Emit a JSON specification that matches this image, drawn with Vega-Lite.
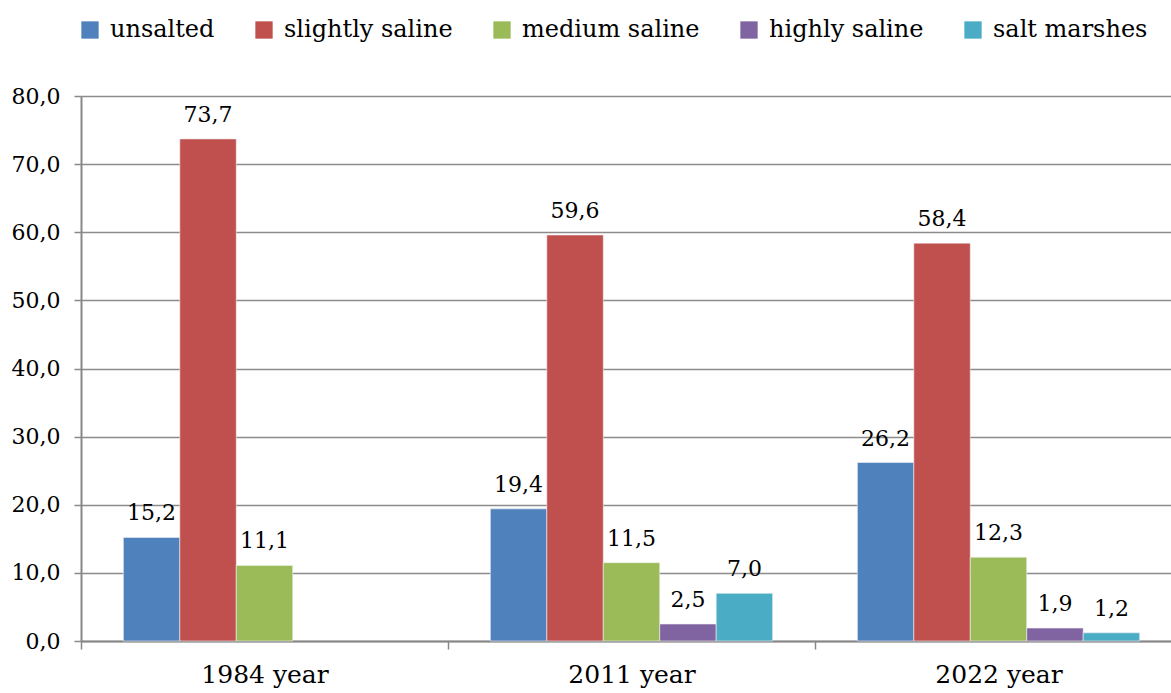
{
  "$schema": "https://vega.github.io/schema/vega-lite/v6.json",
  "width": 1090,
  "height": 545,
  "autosize": "none",
  "padding": {"left": 81, "top": 96, "right": 0, "bottom": 52},
  "background": "white",
  "config": {
    "locale": {"number": {"decimal": ",", "thousands": " ", "grouping": [3], "currency": ["", ""]}},
    "font": "DejaVu Serif",
    "view": {"stroke": null}
  },
  "data": {
    "values": [
      {"year": "1984 year", "type": "unsalted", "value": 15.2},
      {"year": "1984 year", "type": "slightly saline", "value": 73.7},
      {"year": "1984 year", "type": "medium saline", "value": 11.1},
      {"year": "2011 year", "type": "unsalted", "value": 19.4},
      {"year": "2011 year", "type": "slightly saline", "value": 59.6},
      {"year": "2011 year", "type": "medium saline", "value": 11.5},
      {"year": "2011 year", "type": "highly saline", "value": 2.5},
      {"year": "2011 year", "type": "salt marshes", "value": 7.0},
      {"year": "2022 year", "type": "unsalted", "value": 26.2},
      {"year": "2022 year", "type": "slightly saline", "value": 58.4},
      {"year": "2022 year", "type": "medium saline", "value": 12.3},
      {"year": "2022 year", "type": "highly saline", "value": 1.9},
      {"year": "2022 year", "type": "salt marshes", "value": 1.2}
    ]
  },
  "encoding": {
    "x": {
      "field": "year", "type": "nominal", "title": null,
      "scale": {"range": [0, 1101], "paddingInner": 0, "paddingOuter": 0},
      "axis": {
        "labelAngle": 0, "labelFont": "DejaVu Serif", "labelFontSize": 25, "labelColor": "#000",
        "labelPadding": 13, "tickBand": "extent", "tickSize": 8, "tickColor": "#888", "tickWidth": 1.5,
        "domainColor": "#888", "domainWidth": 2, "labelBaseline": "top", "labelLimit": 0
      }
    },
    "xOffset": {
      "field": "type", "type": "nominal",
      "sort": ["unsalted", "slightly saline", "medium saline", "highly saline", "salt marshes"],
      "scale": {"paddingInner": 0, "paddingOuter": 0.75}
    },
    "y": {
      "field": "value", "type": "quantitative", "title": null,
      "scale": {"domain": [0, 80], "nice": false},
      "axis": {
        "values": [0, 10, 20, 30, 40, 50, 60, 70, 80], "format": ".1f",
        "labelFont": "DejaVu Serif", "labelFontSize": 22, "labelColor": "#000", "labelPadding": 14,
        "tickSize": 7, "tickColor": "#888", "tickWidth": 1.5,
        "grid": true, "gridColor": "#8c8c8c", "gridWidth": 1.5,
        "domainColor": "#888", "domainWidth": 2
      }
    }
  },
  "layer": [
    {
      "mark": {"type": "bar", "stroke": "#f2f2f2", "strokeWidth": 0.6},
      "encoding": {
        "color": {
          "field": "type", "type": "nominal", "title": null,
          "sort": ["unsalted", "slightly saline", "medium saline", "highly saline", "salt marshes"],
          "scale": {
            "domain": ["unsalted", "slightly saline", "medium saline", "highly saline", "salt marshes"],
            "range": ["#4F81BD", "#C0504D", "#9BBB59", "#8064A2", "#4BACC6"]
          },
          "legend": {
            "orient": "none", "legendX": -3, "legendY": -78, "direction": "horizontal",
            "symbolType": "square", "symbolSize": 300, "symbolStrokeWidth": 0,
            "labelFont": "DejaVu Serif", "labelFontSize": 24, "labelColor": "#000",
            "labelOffset": 8, "columnPadding": 37, "symbolOpacity": 1, "labelLimit": 0
          }
        }
      }
    },
    {
      "mark": {"type": "text", "baseline": "alphabetic", "dy": -17, "font": "DejaVu Serif", "fontSize": 22, "color": "#000"},
      "encoding": {
        "text": {"field": "value", "type": "quantitative", "format": ".1f"}
      }
    }
  ]
}
